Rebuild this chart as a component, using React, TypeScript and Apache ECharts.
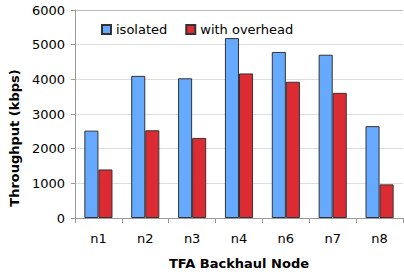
import React, { useEffect, useRef } from "react";
import * as echarts from "echarts";

const categories = ["n1", "n2", "n3", "n4", "n6", "n7", "n8"];
const isolated = [2520, 4100, 4030, 5190, 4790, 4710, 2650];
const withOverhead = [1400, 2530, 2310, 4170, 3930, 3610, 970];
const seriesNames = ["isolated", "with overhead"];

export default function App() {
  const ref = useRef<HTMLDivElement>(null);
  useEffect(() => {
    if (!ref.current) return;
    const chart = echarts.init(ref.current, null, { renderer: "svg" });
    const font = "'DejaVu Sans', Verdana, sans-serif";
    chart.setOption({
      animation: false,
      textStyle: { fontFamily: font, color: "#000" },
      grid: { left: 70, right: 1, top: 10, bottom: 55 },
      legend: {
        left: 96,
        top: 18,
        itemWidth: 9,
        itemHeight: 9,
        itemGap: 18,
        icon: "rect",
        textStyle: { fontFamily: font, fontSize: 13, color: "#000" },
        data: seriesNames,
      },
      xAxis: {
        type: "category",
        data: categories,
        name: "TFA Backhaul Node",
        nameLocation: "middle",
        nameGap: 39,
        nameTextStyle: { fontFamily: font, fontSize: 13, fontWeight: "bold", color: "#000" },
        axisLine: { lineStyle: { color: "#999", width: 1 } },
        axisTick: { show: true, length: 5, alignWithLabel: false, lineStyle: { color: "#999" } },
        axisLabel: { fontFamily: font, fontSize: 13, color: "#000", margin: 14 },
      },
      yAxis: {
        type: "value",
        min: 0,
        max: 6000,
        interval: 1000,
        name: "Throughput (kbps)",
        nameLocation: "middle",
        nameGap: 50,
        nameTextStyle: {
          fontFamily: font,
          fontSize: 13,
          fontWeight: "bold",
          color: "#000",
          padding: [0, 48, 0, 0],
        },
        axisLine: { show: true, lineStyle: { color: "#999", width: 1 } },
        axisTick: { show: true, length: 4, lineStyle: { color: "#999" } },
        axisLabel: {
          fontFamily: font,
          fontSize: 13,
          color: "#000",
          margin: 10,
          formatter: (v: number) => String(v),
        },
        splitLine: {
          show: true,
          lineStyle: {
            color: ["#ddd", "#ddd", "#ddd", "#ddd", "#ddd", "#ddd", "#bbb"],
            width: 1,
          },
        },
      },
      series: [
        {
          name: seriesNames[0],
          type: "bar",
          data: isolated,
          barGap: "0%",
          barCategoryGap: "40%",
          itemStyle: { color: "#66aaff", borderColor: "#333", borderWidth: 1 },
        },
        {
          name: seriesNames[1],
          type: "bar",
          data: withOverhead,
          itemStyle: { color: "#dd2b33", borderColor: "#333", borderWidth: 1 },
        },
      ],
    });
    return () => chart.dispose();
  }, []);
  return <div ref={ref} style={{ width: 404, height: 275, position: "absolute", left: 0, top: 0 }} />;
}
